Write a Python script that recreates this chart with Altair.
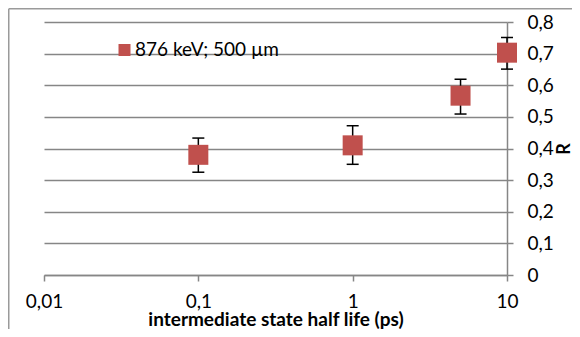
import altair as alt
import pandas as pd

# data
half_life = [0.1, 1, 5, 10]
r_value = [0.38, 0.41, 0.567, 0.703]
r_low = [0.325, 0.350, 0.509, 0.651]
r_high = [0.433, 0.472, 0.619, 0.751]
series = ["876 keV; 500 µm"] * 4

x_ticks = [0.01, 0.1, 1, 10]
y_ticks = [0, 0.1, 0.2, 0.3, 0.4, 0.5, 0.6, 0.7, 0.8]

df = pd.DataFrame({"x": half_life, "r": r_value, "lo": r_low, "hi": r_high, "series": series})

FONT = "Lato"
GRID = "#868686"

xscale = alt.Scale(type="log", domain=[0.01, 10], nice=False)
yscale = alt.Scale(domain=[0, 0.8], nice=False, zero=False)

xaxis = alt.Axis(
    values=x_ticks,
    labelExpr="replace(format(datum.value, '~g'), '.', ',')",
    grid=False,
    domainColor=GRID, domainWidth=1.5,
    tickColor=GRID, tickWidth=1.5, tickSize=6,
    labelFont=FONT, labelFontSize=19, labelColor="black", labelPadding=11.5,
    labelFlush=False, labelOverlap=False,
    title="intermediate state half life (ps)",
    titleFont=FONT, titleFontSize=19, titleFontWeight="bold", titleColor="black",
    titleBaseline="alphabetic", titleY=50,
)
yaxis = alt.Axis(
    orient="right",
    values=y_ticks,
    tickCount=9,
    labelExpr="replace(format(datum.value, '.1~f'), '.', ',')",
    grid=True, gridColor=GRID, gridWidth=1.5,
    domainColor=GRID, domainWidth=1.5,
    tickColor=GRID, tickWidth=1.5, tickSize=6,
    labelFont=FONT, labelFontSize=19, labelColor="black", labelPadding=14,
    labelFlush=False, labelOverlap=False,
    title="R", titleFont=FONT, titleFontSize=18, titleFontWeight="bold", titleColor="black",
    titleAngle=270, titleAlign="center", titleBaseline="middle", titleX=57, titleY=126.5,
)

base = alt.Chart(df)

X = alt.X("x:Q", scale=xscale, axis=xaxis)

bars = base.mark_rule(color="black", strokeWidth=1.5).encode(
    x=X,
    y=alt.Y("lo:Q", scale=yscale, axis=yaxis),
    y2="hi:Q",
)
cap_lo = base.mark_tick(orient="horizontal", size=12, thickness=1.5, color="black", opacity=1).encode(
    x=X, y=alt.Y("lo:Q", scale=yscale, axis=yaxis)
)
cap_hi = base.mark_tick(orient="horizontal", size=12, thickness=1.5, color="black", opacity=1).encode(
    x=X, y=alt.Y("hi:Q", scale=yscale, axis=yaxis)
)
points = base.mark_square(size=400, opacity=1, filled=True).encode(
    x=X,
    y=alt.Y("r:Q", scale=yscale, axis=yaxis),
    color=alt.Color(
        "series:N",
        scale=alt.Scale(range=["#C0504D"]),
        legend=alt.Legend(
            orient="none", legendX=71, legendY=18.5, title=None,
            symbolType="square", symbolSize=144, symbolStrokeWidth=0,
            labelFont=FONT, labelFontSize=19, labelColor="black", labelOffset=1,
            padding=0,
        ),
    ),
)

frame_data = alt.Data(values=[{"k": 1}])
border_v = alt.Chart(frame_data).mark_rule(color="#9a9a9a", strokeWidth=1.5).encode(
    x=alt.value(-35.25), y=alt.value(-13.25), y2=alt.value(400)
)
border_h = alt.Chart(frame_data).mark_rule(color="#9a9a9a", strokeWidth=1.5).encode(
    y=alt.value(-13.25), x=alt.value(-35.25), x2=alt.value(700)
)

chart = alt.layer(border_v, border_h, bars, cap_lo, cap_hi, points).properties(
    width=463, height=253,
    autosize=alt.AutoSizeParams(type="none"),
    padding={"left": 36, "top": 14, "right": 65, "bottom": 54},
    background="white",
).configure_view(stroke=None)

chart.save("out.html", embed_options={"renderer": "svg", "actions": False})
